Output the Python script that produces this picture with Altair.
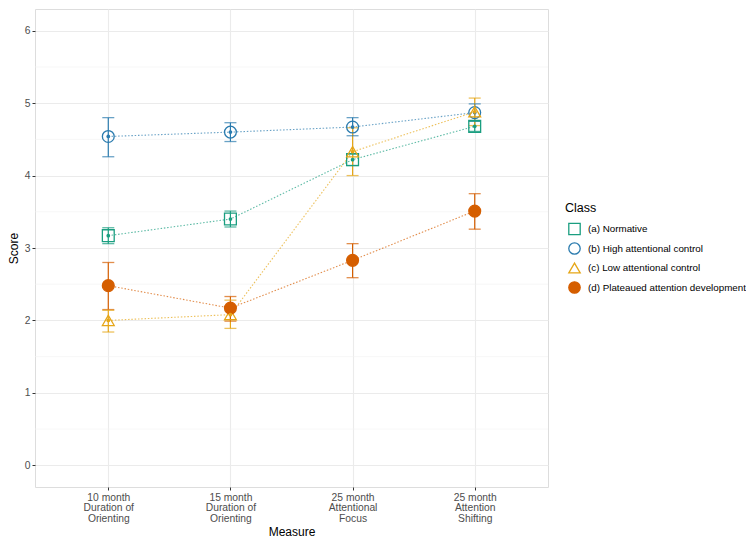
import altair as alt
import pandas as pd

measures = ["10 month|Duration of|Orienting", "15 month|Duration of|Orienting",
            "25 month|Attentional|Focus", "25 month|Attention|Shifting"]
classes = ["(a) Normative", "(b) High attentional control",
           "(c) Low attentional control", "(d) Plateaued attention development"]
colors = ["#1A9E80", "#2A7BAE", "#E6A617", "#D55E00"]
fills = ["transparent", "transparent", "transparent", "#D55E00"]
shapes = ["square", "circle", "triangle-up", "circle"]

means = {
    classes[0]: [3.17, 3.40, 4.22, 4.68],
    classes[1]: [4.54, 4.60, 4.67, 4.87],
    classes[2]: [2.00, 2.08, 4.33, 4.88],
    classes[3]: [2.48, 2.17, 2.83, 3.51],
}
lower = {
    classes[0]: [3.06, 3.29, 4.14, 4.61],
    classes[1]: [4.26, 4.47, 4.55, 4.75],
    classes[2]: [1.84, 1.89, 4.00, 4.69],
    classes[3]: [2.15, 1.99, 2.59, 3.26],
}
upper = {
    classes[0]: [3.28, 3.51, 4.30, 4.75],
    classes[1]: [4.80, 4.73, 4.80, 4.99],
    classes[2]: [2.14, 2.28, 4.66, 5.07],
    classes[3]: [2.80, 2.33, 3.06, 3.75],
}
y_ticks = [0, 1, 2, 3, 4, 5, 6]
minor_ticks = [0.5, 1.5, 2.5, 3.5, 4.5, 5.5]

rows = []
for c in classes:
    for i, m in enumerate(measures):
        rows.append({"Class": c, "pos": i + 1, "Measure": m,
                     "Score": means[c][i], "lo": lower[c][i], "hi": upper[c][i]})
df = pd.DataFrame(rows)
minor_df = pd.DataFrame({"v": minor_ticks})

FONT = "Liberation Sans"
label_expr = "split(['', '" + "', '".join(measures) + "'][datum.value], '|')"

x_enc = alt.X("pos:Q", scale=alt.Scale(domain=[0.4, 4.6], nice=False, zero=False),
              axis=alt.Axis(values=[1, 2, 3, 4], labelExpr=label_expr, title="Measure",
                            grid=True, gridColor="#EBEBEB", gridWidth=1.1,
                            tickSize=3, tickColor="#333333", labelPadding=2,
                            labelColor="#4D4D4D", labelFontSize=10.3, labelLineHeight=10.5,
                            labelFont=FONT, titleFont=FONT, titleFontSize=12,
                            titleFontWeight="normal", titleColor="#000000", titlePadding=3,
                            domain=False))
y_scale = alt.Scale(domain=[-0.3, 6.3], nice=False, zero=False)
y_enc = alt.Y("Score:Q", scale=y_scale,
              axis=alt.Axis(values=y_ticks, format="d", title="Score", grid=True,
                            gridColor="#EBEBEB", gridWidth=1.1, tickSize=3,
                            tickColor="#333333", labelPadding=2,
                            labelColor="#4D4D4D", labelFontSize=10.3, labelFont=FONT,
                            titleFont=FONT, titleFontSize=12, titleFontWeight="normal",
                            titleColor="#000000", titlePadding=4, domain=False))

# colour scale for lines / error bars (domain from data so its legend stays separate & hidden)
col_scale = alt.Scale(range=colors)

minor = alt.Chart(minor_df).mark_rule(color="#F2F2F2", strokeWidth=0.6).encode(
    y=alt.Y("v:Q", scale=y_scale))

base = alt.Chart(df)

lines = base.mark_line(strokeDash=[1.5, 1.8], strokeWidth=1.1, opacity=0.7).encode(
    x=x_enc, y=y_enc,
    color=alt.Color("Class:N", scale=col_scale, legend=None), detail="Class:N")

bars = base.mark_rule(strokeWidth=1.2).encode(
    x="pos:Q", y=alt.Y("lo:Q", scale=y_scale), y2="hi:Q",
    color=alt.Color("Class:N", scale=col_scale, legend=None))

caps_lo = base.mark_tick(thickness=1.3, size=12, orient="horizontal").encode(
    x="pos:Q", y=alt.Y("lo:Q", scale=y_scale),
    color=alt.Color("Class:N", scale=col_scale, legend=None))
caps_hi = base.mark_tick(thickness=1.3, size=12, orient="horizontal").encode(
    x="pos:Q", y=alt.Y("hi:Q", scale=y_scale),
    color=alt.Color("Class:N", scale=col_scale, legend=None))

legend = alt.Legend(title="Class")

points = base.mark_point(size=140, strokeWidth=1.3, opacity=1).encode(
    x="pos:Q", y=alt.Y("Score:Q", scale=y_scale),
    stroke=alt.Stroke("Class:N", scale=alt.Scale(domain=classes, range=colors), legend=legend),
    fill=alt.Fill("Class:N", scale=alt.Scale(domain=classes, range=fills), legend=legend),
    shape=alt.Shape("Class:N", scale=alt.Scale(domain=classes, range=shapes), legend=legend))

dots = base.transform_filter(alt.FieldOneOfPredicate(field="Class", oneOf=classes[:3])).mark_circle(
    size=14, opacity=1).encode(
    x="pos:Q", y=alt.Y("Score:Q", scale=y_scale),
    color=alt.Color("Class:N", scale=col_scale, legend=None))

chart = alt.layer(minor, lines, bars, caps_lo, caps_hi, points, dots).properties(
    width=513, height=478,
    autosize=alt.AutoSizeParams(type="none"),
    padding={"left": 27, "top": 1, "right": 198, "bottom": 52},
).configure_view(stroke="#333333", strokeWidth=1.2).configure(background="white").configure_legend(
    orient="none", legendX=530, legendY=193,
    titleFont=FONT, titleFontSize=12.5, titleFontWeight="normal",
    titleColor="#000000", titlePadding=8, labelFont=FONT,
    labelFontSize=9.8, labelColor="#000000", labelLimit=400, symbolSize=130,
    symbolStrokeWidth=1.3, rowPadding=2.5, symbolOffset=3, labelOffset=7, padding=0)

chart.save("out.html", embed_options={"renderer": "svg", "actions": False})
